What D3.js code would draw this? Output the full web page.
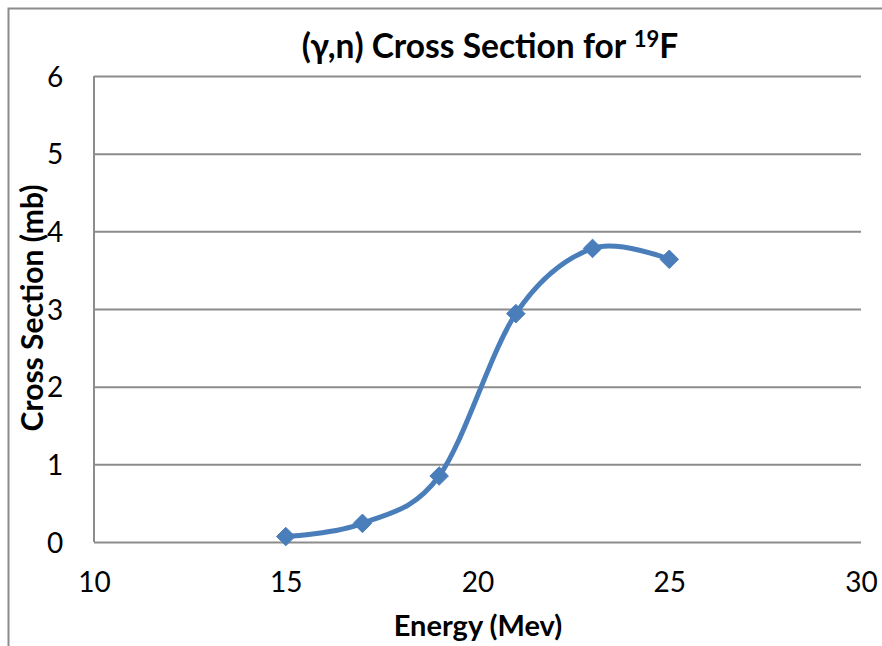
<!DOCTYPE html>
<html><head><meta charset="utf-8">
<script src="https://cdn.jsdelivr.net/npm/d3@7"></script>
<style>body{margin:0;background:#fff}svg{display:block}text{font-family:Lato,"Open Sans",sans-serif;fill:#000}</style>
</head><body><svg id="c" width="882" height="646"></svg>
<script>
const energy = [15, 17, 19, 21, 23, 25];
const crossSection = [0.07, 0.24, 0.85, 2.94, 3.78, 3.64];
const xTicks = [10, 15, 20, 25, 30];
const yTicks = [0, 1, 2, 3, 4, 5, 6];
const title = "(γ,n) Cross Section for ";
const xTitle = "Energy (Mev)";
const yTitle = "Cross Section (mb)";

const svg = d3.select("#c");
const x = d3.scaleLinear().domain([10, 30]).range([94, 861]);
const y = d3.scaleLinear().domain([0, 6]).range([542, 76]);

// outer frame
svg.append("path").attr("d", "M8.5,660 V8.5 H890").attr("fill", "none").attr("stroke", "#8c8c8c").attr("stroke-width", 2);

// gridlines
const yAxis = d3.axisLeft(y).tickValues(yTicks).tickSize(-(861 - 94)).tickFormat(d3.format("d"));
const gy = svg.append("g").attr("transform", "translate(94,0)").call(yAxis);
gy.select(".domain").remove();
gy.selectAll(".tick line").attr("stroke", "#8c8c8c").attr("stroke-width", 2);
gy.selectAll(".tick text").attr("x", -39).attr("text-anchor", "middle").attr("dy", "0.36em").style("font-size", "28px");

svg.append("line").attr("x1", 94).attr("x2", 94).attr("y1", 76).attr("y2", 542).attr("stroke", "#8c8c8c").attr("stroke-width", 2);

const xAxis = d3.axisBottom(x).tickValues(xTicks).tickSize(0).tickFormat(d3.format("d"));
const gx = svg.append("g").attr("transform", "translate(0,542)").call(xAxis);
gx.select(".domain").remove();
gx.selectAll(".tick text").attr("y", 40).attr("dy", "0.36em").style("font-size", "28px");

// line
const line = d3.line().x((d, i) => x(energy[i])).y(d => y(d)).curve(d3.curveCardinal.tension(0));
svg.append("path").datum(crossSection).attr("d", line).attr("fill", "none").attr("stroke", "#4a7ebb").attr("stroke-width", 5);

// markers
svg.selectAll(".m").data(crossSection).join("path").attr("class", "m")
  .attr("transform", (d, i) => `translate(${x(energy[i])},${y(d)})`)
  .attr("d", d3.symbol(d3.symbolDiamond2, 220)).attr("fill", "#4a7ebb").attr("stroke", "#4a7ebb").attr("stroke-width", 1);

// titles
const t = svg.append("text").attr("x", 490).attr("y", 58).attr("text-anchor", "middle").style("font-size", "33.5px").style("font-weight", "bold");
t.append("tspan").text(title);
t.append("tspan").text("19").attr("dy", -11).style("font-size", "22px");
t.append("tspan").text("F").attr("dy", 11);

svg.append("text").attr("x", 478).attr("y", 636).attr("text-anchor", "middle").style("font-size", "29px").style("font-weight", "bold").text(xTitle);
svg.append("text").attr("transform", "translate(43,308) rotate(-90)").attr("text-anchor", "middle").style("font-size", "30px").style("font-weight", "bold").text(yTitle);
</script></body></html>
